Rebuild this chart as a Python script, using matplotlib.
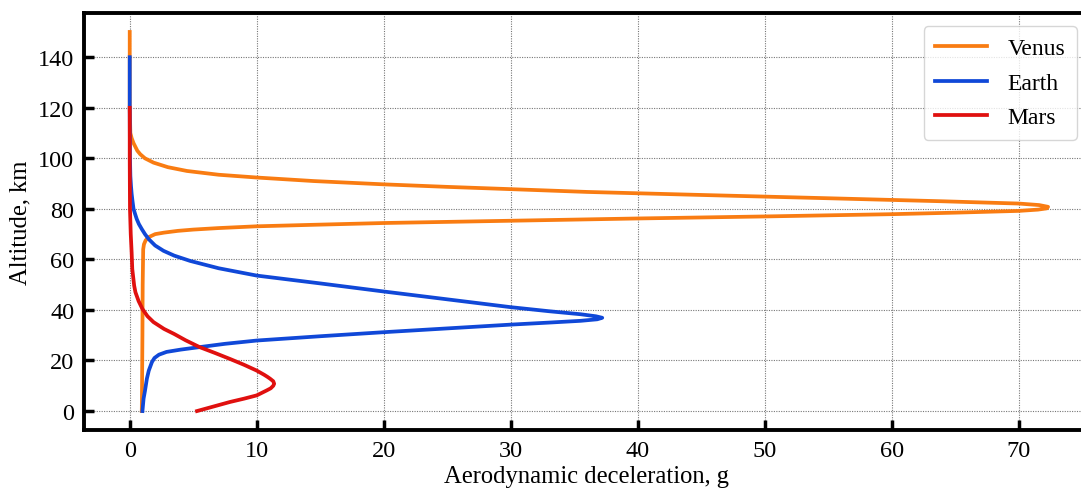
import matplotlib
matplotlib.use("Agg")
import matplotlib.pyplot as plt

plt.rcParams['font.family'] = ['Liberation Serif', 'DejaVu Serif']

# Venus: altitude (km) and deceleration (g)
venus_h = [150, 120, 110, 108, 106, 103, 101.6, 100, 98.3, 96.5, 95.0, 93.5, 92.4, 91.0,
           89.7, 88.7, 87.8, 86.7, 85.5, 84.2, 83.0, 82.1, 81.5, 80.8, 80.2, 79.7, 79.2,
           78.5, 77.9, 77.0, 76.2, 75.3, 74.4, 73.7, 73.1, 72.4, 71.8, 71.3, 70.6, 70.0,
           68.7, 67.5, 66.0, 64.0, 50, 30, 10, 0]
venus_g = [0, 0, 0.05, 0.15, 0.3, 0.6, 0.83, 1.2, 1.87, 3.0, 4.5, 7.0, 10, 14.5,
           20, 25, 30, 36, 45, 55, 64, 70, 71.6, 72.3, 72.2, 71.5, 70,
           65, 60, 50, 40, 30, 20, 14.5, 10, 7.0, 5.0, 3.8, 2.7, 2.0,
           1.45, 1.25, 1.12, 1.06, 1.02, 1.0, 0.97, 0.95]

# Earth
earth_h = [140, 120, 100, 93, 89, 86, 83, 80, 78, 76, 74, 72, 70, 68, 65.5, 63.4, 61.5,
           59.4, 56.5, 53.6, 50.5, 47.3, 44.2, 41.1, 39.5, 38.3, 37.5, 36.9, 36.3, 35.7,
           35.0, 34.2, 32.7, 31.2, 29.6, 27.9, 26.6, 25.3, 24.3, 23.4, 22.3, 21.0, 19.4,
           16, 12.8, 8, 4.9, 0]
earth_g = [0, 0, 0.02, 0.05, 0.1, 0.15, 0.22, 0.3, 0.42, 0.55, 0.72, 0.95, 1.2, 1.5, 2.0, 2.66, 3.5,
           4.76, 7.0, 10, 15, 20, 25, 30, 33, 35.5, 36.7, 37.2, 36.8, 35.5,
           33, 30, 25, 20, 15, 10, 7.5, 5.5, 4.0, 2.9, 2.3, 1.95, 1.75,
           1.5, 1.35, 1.2, 1.09, 1.0]

# Mars
mars_h = [120, 100, 80, 70, 62.8, 56.2, 49.6, 47.0, 43.5, 40.4, 37.5, 35.2, 32.5, 30.5,
          28, 25.3, 23, 20.6, 18.3, 16.0, 14.3, 13.5, 12.8, 11.8, 10.8, 10.0, 9.0, 8.2,
          7.2, 6.2, 4.9, 3.6, 1.8, 0]
mars_g = [0, 0, 0.02, 0.08, 0.15, 0.2, 0.35, 0.45, 0.7, 1.0, 1.4, 1.87, 2.7, 3.5,
          4.4, 5.5, 6.7, 7.9, 9.0, 10.0, 10.6, 10.85, 11.05, 11.3, 11.37, 11.3, 11.1, 10.8,
          10.4, 10.0, 9.0, 7.9, 6.6, 5.3]

x_ticks = [0, 10, 20, 30, 40, 50, 60, 70]
y_ticks = [0, 20, 40, 60, 80, 100, 120, 140]

fig = plt.figure(figsize=(10.81, 4.89), dpi=100)
ax = fig.add_axes([84 / 1081, 1 - 431 / 489, (1090 - 84) / 1081, (431 - 14) / 489])

lw = 2.7
ax.plot(venus_g, venus_h, color='#f97c12', lw=lw, label='Venus', solid_joinstyle='round')
ax.plot(earth_g, earth_h, color='#1048d8', lw=lw, label='Earth', solid_joinstyle='round')
ax.plot(mars_g, mars_h, color='#e0100f', lw=lw, label='Mars', solid_joinstyle='round')

ax.set_xlim(-3.6, 75.6)
ax.set_ylim(-7.5, 157.5)
ax.set_xticks(x_ticks)
ax.set_yticks(y_ticks)
ax.grid(True, linestyle=(0, (1, 1.2)), color='#777777', linewidth=0.8)

for s in ax.spines.values():
    s.set_linewidth(2.8)
ax.tick_params(direction='in', length=7, width=2.5, labelsize=17.5, pad=7)

ax.set_xlabel('Aerodynamic deceleration, g', fontsize=17.7, labelpad=3)
ax.set_ylabel('Altitude, km', fontsize=17.7, labelpad=5)

leg = ax.legend(loc='upper right', bbox_to_anchor=(1077 / 1081, 1 - 27 / 489),
                bbox_transform=fig.transFigure, borderaxespad=0, fontsize=17,
                frameon=True, fancybox=True, edgecolor='#cccccc', handlelength=2.2,
                labelspacing=0.55, handletextpad=0.85, borderpad=0.5)
leg.get_frame().set_linewidth(1.0)

fig.savefig('out.png', dpi=100)
